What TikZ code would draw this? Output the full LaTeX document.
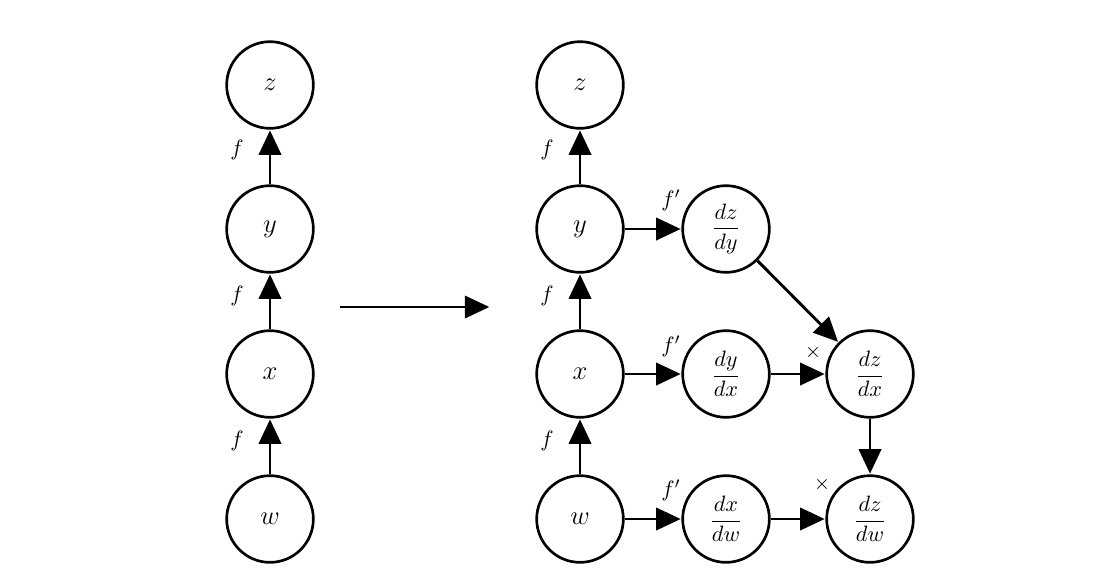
\documentclass[tikz,border=0pt]{standalone}
\usepackage{amsmath}
\usetikzlibrary{arrows.meta}
\begin{document}
\begin{tikzpicture}[x=0.45pt,y=-0.45pt,
  nd/.style={circle,draw,line width=1.2pt,minimum size=39pt,inner sep=0pt},
  ar/.style={line width=1.3pt,-{Triangle[length=11pt,width=10pt]},shorten >=0.3pt},
  lab/.style={inner sep=0pt}]
\useasboundingbox (0,0) rectangle (1114,578);
% left column
\node[nd] (lz) at (270,85) {\large$z$};
\node[nd] (ly) at (270,229) {\large$y$};
\node[nd] (lx) at (270,374) {\large$x$};
\node[nd] (lw) at (270,519) {\large$w$};
\draw[ar] (ly) -- (lz);
\draw[ar] (lx) -- (ly);
\draw[ar] (lw) -- (lx);
\node[lab] (lf1) at (237,150) {$f$};
\node[lab] (lf2) at (237,296) {$f$};
\node[lab] (lf3) at (237,441) {$f$};
% big arrow
\coordinate (bs) at (340,307);
\coordinate (be) at (490,307);
\draw[ar] (bs) -- (be);
% right column
\node[nd] (rz) at (580,85) {\large$z$};
\node[nd] (ry) at (580,229) {\large$y$};
\node[nd] (rx) at (580,374) {\large$x$};
\node[nd] (rw) at (580,519) {\large$w$};
\draw[ar] (ry) -- (rz);
\draw[ar] (rx) -- (ry);
\draw[ar] (rw) -- (rx);
\node[lab] (rf1) at (547,150) {$f$};
\node[lab] (rf2) at (547,296) {$f$};
\node[lab] (rf3) at (547,441) {$f$};
% derivative nodes
\node[nd] (dzdy) at (726,229) {$\dfrac{dz}{dy}$};
\node[nd] (dydx) at (726,374) {$\dfrac{dy}{dx}$};
\node[nd] (dxdw) at (726,519) {$\dfrac{dx}{dw}$};
\node[nd] (dzdx) at (870,374) {$\dfrac{dz}{dx}$};
\node[nd] (dzdw) at (870,519) {$\dfrac{dz}{dw}$};
\draw[ar] (ry) -- (dzdy);
\draw[ar] (rx) -- (dydx);
\draw[ar] (rw) -- (dxdw);
\draw[ar] (dzdy) -- (dzdx);
\draw[ar] (dydx) -- (dzdx);
\draw[ar] (dzdx) -- (dzdw);
\draw[ar] (dxdw) -- (dzdw);
\node[lab] (fp1) at (671,200) {$f'$};
\node[lab] (fp2) at (671,346) {$f'$};
\node[lab] (fp3) at (671,490) {$f'$};
\node[lab] (t1) at (813,352) {\small$\times$};
\node[lab] (t2) at (822,484) {\small$\times$};
\end{tikzpicture}
\end{document}
